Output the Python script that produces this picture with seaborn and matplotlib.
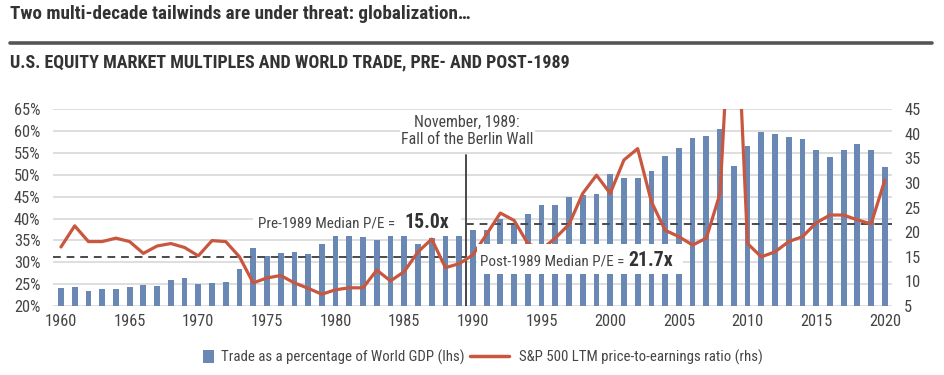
import matplotlib
matplotlib.use("Agg")
import matplotlib.pyplot as plt
import seaborn as sns
import numpy as np
import pandas as pd
from matplotlib.lines import Line2D
from matplotlib.patches import Patch, Rectangle
from matplotlib import font_manager

# ---------------- data ----------------
years = list(range(1960, 2021))
trade_pct = [24.1, 24.4, 23.5, 24.0, 24.0, 24.3, 24.9, 24.6, 25.9, 26.5,
             25.1, 25.2, 25.5, 28.4, 33.2, 31.4, 32.2, 32.3, 32.0, 34.2,
             36.0, 36.0, 35.8, 35.2, 36.0, 36.0, 34.2, 35.5, 36.0, 36.0,
             37.5, 37.5, 40.0, 38.9, 41.0, 43.1, 43.2, 45.0, 45.4, 45.7,
             50.3, 49.3, 49.2, 50.8, 54.3, 56.2, 58.5, 58.8, 60.6, 52.0,
             56.5, 59.7, 59.4, 58.7, 58.1, 55.6, 54.0, 55.6, 57.0, 55.8, 51.8]
pe_ratio = [17.0, 21.3, 18.1, 18.1, 18.8, 18.1, 15.7, 17.2, 17.7, 16.9,
            15.2, 18.3, 18.1, 15.0, 9.7, 10.7, 11.2, 9.7, 8.6, 7.4,
            8.3, 8.7, 8.7, 12.3, 10.1, 12.0, 16.0, 18.6, 12.8, 13.6,
            15.4, 19.6, 23.9, 22.4, 17.7, 16.5, 18.8, 21.6, 27.9, 31.6,
            27.9, 34.7, 37.0, 26.2, 20.4, 19.1, 17.4, 18.8, 27.9, 80.0,
            17.7, 15.0, 16.0, 18.1, 19.1, 21.9, 23.5, 23.5, 22.5, 21.7, 30.6]
pre_median = 15.0
post_median = 21.7
event_year = 1989.5
left_ticks = [20, 25, 30, 35, 40, 45, 50, 55, 60, 65]
right_ticks = [5, 10, 15, 20, 25, 30, 35, 40, 45]
year_ticks = list(range(1960, 2021, 5))

title = "Two multi-decade tailwinds are under threat: globalization\u2026"
subtitle = "U.S. EQUITY MARKET MULTIPLES AND WORLD TRADE, PRE- AND POST-1989"
event_label = "November, 1989:\nFall of the Berlin Wall"
pre_label = "Pre-1989 Median P/E ="
post_label = "Post-1989 Median P/E ="
bar_label = "Trade as a percentage of World GDP (lhs)"
line_label = "S&P 500 LTM price-to-earnings ratio (rhs)"

df = pd.DataFrame({"year": years, "trade": trade_pct, "pe": pe_ratio})

# ---------------- style ----------------
sns.set_theme(style="white")
_names = {f.name for f in font_manager.fontManager.ttflist}
_family = None
for cand in ["Liberation Sans Narrow", "Roboto Condensed", "Open Sans Condensed",
             "DejaVu Sans Condensed", "Noto Sans Condensed"]:
    if cand in _names:
        _family = cand
        break
if _family is None:
    _family = "DejaVu Sans"
    if any(f.name == "DejaVu Sans" and f.stretch in ("condensed", "semi-condensed")
           for f in font_manager.fontManager.ttflist):
        plt.rcParams["font.stretch"] = "condensed"
plt.rcParams["font.family"] = [_family, "DejaVu Sans"]

TXT = "#454545"
DARK = "#333333"
BAR = "#6A88B4"
RED = "#C9573F"
GRID = "#D4D4D4"
W, H = 945.0, 375.0

fig = plt.figure(figsize=(9.45, 3.75), dpi=100)
renderer = fig.canvas.get_renderer()


def fx(px):
    return px / W


def fy(py):
    return 1 - py / H


def fit_size(text, target_px, base=10.0, weight="normal"):
    t = fig.text(0, 0, text, fontsize=base, fontweight=weight)
    w = t.get_window_extent(renderer).width
    t.remove()
    return base * target_px / w


ax = fig.add_axes([fx(53), fy(306), (891.7 - 53) / W, (306 - 109.3) / H])

sns.barplot(data=df, x="year", y="trade", native_scale=True, width=0.42,
            color=BAR, saturation=1, edgecolor="none", ax=ax, zorder=2)
ax.set_xlim(1959.42, 2020.5)
ax.set_ylim(20, 65)
ax.set_yticks(left_ticks)
ax.set_yticklabels([f"{t}%" for t in left_ticks])
ax.set_xticks(year_ticks)
ax.set_xticklabels([str(y) for y in year_ticks])
ax.yaxis.grid(True, color=GRID, linewidth=1.1)
ax.set_axisbelow(True)
ax.set_xlabel("")
ax.set_ylabel("")
for s in ax.spines.values():
    s.set_visible(False)
tick_fs = fit_size("2020", 29) * 1.1
ax.tick_params(axis="both", length=0, labelsize=tick_fs, labelcolor=TXT)
ax.tick_params(axis="y", pad=9)
ax.tick_params(axis="x", pad=6)
ax.axvline(event_year, ymin=0, ymax=(54.5 - 20) / 45, color="#3a3a3a",
           linewidth=1.3, zorder=3)

ax2 = ax.twinx()
ax2.set_ylim(5, 45)
ax2.plot([1959.42, event_year], [pre_median, pre_median], color="#4a4a4a",
         linestyle=(0, (4, 3)), linewidth=1.4, zorder=2)
ax2.plot([event_year, 2020.5], [post_median, post_median], color="#4a4a4a",
         linestyle=(0, (4, 3)), linewidth=1.4, zorder=2)
sns.lineplot(data=df, x="year", y="pe", color=RED, linewidth=2.3, ax=ax2, zorder=3)
ax2.set_xlim(1959.42, 2020.5)
ax2.set_yticks(right_ticks)
ax2.set_yticklabels([str(t) for t in right_ticks])
ax2.set_ylabel("")
ax2.set_xlabel("")
for s in ax2.spines.values():
    s.set_visible(False)
ax2.tick_params(axis="y", length=0, labelsize=tick_fs, labelcolor=TXT, pad=9)

# ---------------- annotation boxes (figure layer, above axes) ----------------
for (x0, y0, x1, y1) in [(400, 113, 535, 149), (253, 210, 461, 234), (477, 244, 683, 274)]:
    fig.add_artist(Rectangle((fx(x0), fy(y1)), (x1 - x0) / W, (y1 - y0) / H,
                             transform=fig.transFigure, facecolor="white",
                             edgecolor="none", zorder=2))

ev_fs = fit_size("Fall of the Berlin Wall", 125) * 1.06
fig.text(fx(466.7), fy(131), event_label, ha="center", va="center",
         fontsize=ev_fs, color=TXT, linespacing=1.15, zorder=3)

lab_fs = fit_size(pre_label, 131) * 1.04
num_fs = fit_size("15.0x", 43, weight="bold") * 1.04
fig.text(fx(395), fy(223), pre_label, ha="right", va="center",
         fontsize=lab_fs, color=TXT, zorder=3)
fig.text(fx(404), fy(222), f"{pre_median:.1f}x", ha="left", va="center",
         fontsize=num_fs, fontweight="bold", color=DARK, zorder=3)
fig.text(fx(624), fy(262), post_label, ha="right", va="center",
         fontsize=lab_fs, color=TXT, zorder=3)
fig.text(fx(628), fy(261), f"{post_median:.1f}x", ha="left", va="center",
         fontsize=num_fs, fontweight="bold", color=DARK, zorder=3)

# ---------------- titles and separator ----------------
fig.text(fx(10), fy(14), title, ha="left", va="center",
         fontsize=fit_size(title, 462, weight="bold"), fontweight="bold", color=DARK)
fig.add_artist(Line2D([fx(10), fx(932)], [fy(42.7), fy(42.7)],
                      color="#555555", linewidth=2.6))
fig.text(fx(10), fy(62), subtitle, ha="left", va="center",
         fontsize=fit_size(subtitle, 558, weight="bold"), fontweight="bold", color=DARK)

# ---------------- legends ----------------
leg_fs = fit_size(bar_label, 232) * 1.04
leg1 = fig.legend(handles=[Patch(facecolor=BAR, edgecolor="none", label=bar_label)],
                  loc="center left", bbox_to_anchor=(fx(203), fy(357)),
                  frameon=False, fontsize=leg_fs, handlelength=0.75, handleheight=1.0,
                  handletextpad=0.45, borderpad=0, borderaxespad=0)
for t in leg1.get_texts():
    t.set_color(TXT)
leg2 = fig.legend(handles=[Line2D([], [], color=RED, linewidth=2.5, label=line_label)],
                  loc="center left", bbox_to_anchor=(fx(470), fy(357)),
                  frameon=False, fontsize=leg_fs, handlelength=2.6,
                  handletextpad=0.7, borderpad=0, borderaxespad=0)
for t in leg2.get_texts():
    t.set_color(TXT)

fig.savefig("out.png", dpi=100, facecolor="white")
